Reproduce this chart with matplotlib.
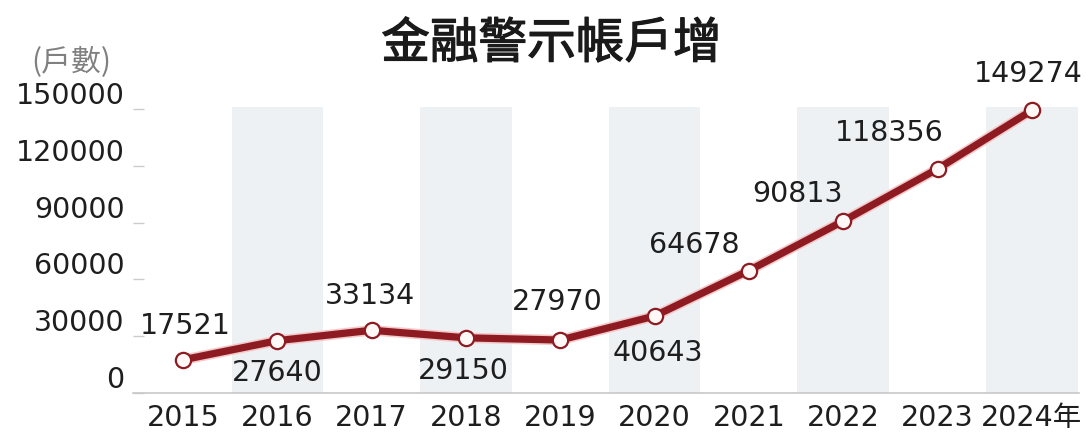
import matplotlib
matplotlib.use("Agg")
import matplotlib.pyplot as plt
import matplotlib.patheffects as pe

years = ["2015", "2016", "2017", "2018", "2019", "2020", "2021", "2022", "2023", "2024年"]
accounts = [17521, 27640, 33134, 29150, 27970, 40643, 64678, 90813, 118356, 149274]
yticks = [0, 30000, 60000, 90000, 120000, 150000]
title = "金融警示帳戶增"
unit = "(戶數)"

# label offsets in pixels (dx, dy)
offsets = [(2, 35), (0, -31), (-2, 35), (-3, -32), (-3, 39), (3, -36),
           (-55, 27), (-46, 28), (-48, 37), (-4, 37)]

fam = ["DejaVu Sans", "Noto Sans CJK TC"]
plt.rcParams["font.family"] = fam

W, H = 1092, 439
fig = plt.figure(figsize=(W / 100, H / 100), dpi=100)
ax = fig.add_axes([133 / W, (H - 394) / H, (1079 - 133) / W, (394 - 110) / H])

x = list(range(len(years)))
ax.set_xlim(-0.53, len(years) - 0.5)
ax.set_ylim(0, 150000)

# alternating background bands
for i in x:
    if i % 2 == 1:
        ax.bar(i, 151000, width=0.97, color="#eef1f4", zorder=0, clip_on=False)

# line with light outline
ax.plot(x, accounts, color="#f3c9c9", lw=7.5, zorder=2, solid_capstyle="round", clip_on=False)
ax.plot(x, accounts, color="#8e1b22", lw=5.2, zorder=3, solid_capstyle="round", clip_on=False)
ax.plot(x, accounts, ls="none", marker="o", ms=11, mfc="#fff8f6", mec="#8e1b22",
        mew=1.6, zorder=4, clip_on=False)

for i, v in enumerate(accounts):
    dx, dy = offsets[i]
    ax.annotate(f"{v}", (i, v), xytext=(dx, dy), textcoords="offset pixels",
                ha="center", va="center", fontsize=20.5, color="#1e1e1e", zorder=5)

for s in ["top", "right", "left"]:
    ax.spines[s].set_visible(False)
ax.spines["bottom"].set_color("#c8c8c8")
ax.spines["bottom"].set_linewidth(1.2)

ax.set_yticks(yticks)
ax.set_yticklabels([str(t) for t in yticks])
ax.tick_params(axis="y", direction="in", length=8, width=1, color="#cccccc",
               labelsize=20.5, labelcolor="#1e1e1e", pad=6)
for lbl in ax.get_yticklabels():
    lbl.set_va("bottom")

ax.set_xticks(x)
ax.set_xticklabels(years)
ax.tick_params(axis="x", length=0, labelsize=20.5, labelcolor="#1e1e1e", pad=7)

fig.text(0.505, 0.897, title, ha="center", va="center", fontsize=35,
         family=["Noto Sans CJK TC"], color="#1a1a1a",
         path_effects=[pe.withStroke(linewidth=0.9, foreground="#1a1a1a")])
fig.text(31 / W, 1 - 62 / H, unit, ha="left", va="center", fontsize=21.5,
         family=["Noto Sans CJK TC"], color="#808080")

fig.savefig("out.png", dpi=100, facecolor="white")
